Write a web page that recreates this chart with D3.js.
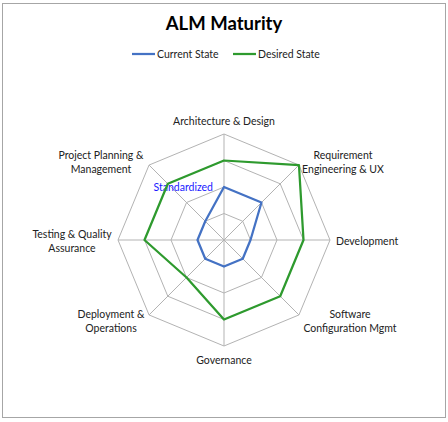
<!DOCTYPE html>
<html>
<head>
<meta charset="utf-8">
<script src="https://cdn.jsdelivr.net/npm/d3@7"></script>
<style>
  body { margin: 0; background: #fff; }
  svg text { font-family: Lato, "Open Sans", sans-serif; fill: #222; }
</style>
</head>
<body>
<div id="chart"></div>
<script>
// axis names, clockwise from the top
var categories = [
  ["Architecture & Design"],
  ["Requirement", "Engineering & UX"],
  ["Development"],
  ["Software", "Configuration Mgmt"],
  ["Governance"],
  ["Deployment &", "Operations"],
  ["Testing & Quality", "Assurance"],
  ["Project Planning &", "Management"]
];
var currentState = [2, 2, 1, 1, 1, 1, 1, 1];
var desiredState = [3, 4, 3, 3, 3, 2, 3, 3];
var seriesNames = ["Current State", "Desired State"];
var levels = [1, 2, 3, 4];
var levelLabels = ["", "Standardized", "", ""];

var W = 448, H = 422;
var cx = 224, cy = 240, R = 106;
var blue = "#4472C4", green = "#2E9A2E";

var svg = d3.select("#chart").append("svg")
    .attr("width", W)
    .attr("height", H);

// chart frame
svg.append("rect")
    .attr("x", 2.5).attr("y", 3.5)
    .attr("width", 443).attr("height", 414)
    .attr("fill", "#fff")
    .attr("stroke", "#a6a6a6");

var n = categories.length;
var angle = d3.scaleLinear().domain([0, n]).range([0, 2 * Math.PI]);
var r = d3.scaleLinear().domain([0, 4]).range([0, R]);

function pt(i, v) {
  var a = angle(i);
  return [cx + r(v) * Math.sin(a), cy - r(v) * Math.cos(a)];
}

var g = svg.append("g");

// grid rings
levels.forEach(function(l) {
  g.append("path")
      .attr("d", d3.line()(d3.range(n).map(function(i) { return pt(i, l); })) + "Z")
      .attr("fill", "none")
      .attr("stroke", "#b3b3b3")
      .attr("stroke-width", 1);
});

// spokes
d3.range(n).forEach(function(i) {
  var p = pt(i, 4);
  g.append("line")
      .attr("x1", cx).attr("y1", cy)
      .attr("x2", p[0]).attr("y2", p[1])
      .attr("stroke", "#b3b3b3")
      .attr("stroke-width", 1);
});

// level label
levels.forEach(function(l, k) {
  if (!levelLabels[k]) return;
  g.append("text")
      .attr("x", cx - 11)
      .attr("y", cy - r(l) + 4)
      .attr("text-anchor", "end")
      .style("font-size", "10.5px")
      .style("fill", "#1a1aff")
      .text(levelLabels[k]);
});

// series
var lineGen = d3.line();
[[currentState, blue], [desiredState, green]].forEach(function(s) {
  g.append("path")
      .attr("d", lineGen(s[0].map(function(v, i) { return pt(i, v); })) + "Z")
      .attr("fill", "none")
      .attr("stroke", s[1])
      .attr("stroke-width", 2.25)
      .attr("stroke-linejoin", "round");
});

// category labels
var labelPos = [
  {x: 224, y: 125, a: "middle"},
  {x: 343, y: 159, a: "middle"},
  {x: 336, y: 244.5, a: "start"},
  {x: 350, y: 318, a: "middle"},
  {x: 224, y: 364, a: "middle"},
  {x: 111, y: 318, a: "middle"},
  {x: 72, y: 238, a: "middle"},
  {x: 101, y: 159, a: "middle"}
];
categories.forEach(function(lines, i) {
  var t = svg.append("text")
      .attr("x", labelPos[i].x)
      .attr("y", labelPos[i].y)
      .attr("text-anchor", labelPos[i].a)
      .style("font-size", "10.5px");
  lines.forEach(function(s, j) {
    t.append("tspan")
        .attr("x", labelPos[i].x)
        .attr("dy", j == 0 ? 0 : 14)
        .text(s);
  });
});

// title
svg.append("text")
    .attr("x", 224).attr("y", 30)
    .attr("text-anchor", "middle")
    .style("font-size", "18.5px")
    .style("font-weight", "bold")
    .style("fill", "#000")
    .text("ALM Maturity");

// legend
var legX = [132, 233];
seriesNames.forEach(function(name, i) {
  var c = i == 0 ? blue : green;
  svg.append("line")
      .attr("x1", legX[i]).attr("x2", legX[i] + 23)
      .attr("y1", 54).attr("y2", 54)
      .attr("stroke", c)
      .attr("stroke-width", 2.25);
  svg.append("text")
      .attr("x", legX[i] + 25).attr("y", 57.5)
      .style("font-size", "10.5px")
      .text(name);
});
</script>
</body>
</html>
